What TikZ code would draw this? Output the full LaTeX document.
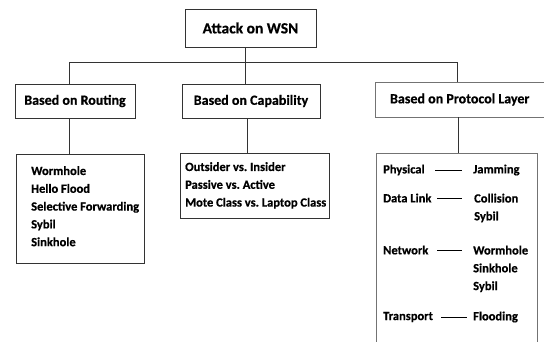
\documentclass[tikz,border=0pt]{standalone}
\usepackage{fontspec}
\setmainfont{Carlito}[BoldFeatures={FakeBold=0.6}]
\frenchspacing
\begin{document}
\begin{tikzpicture}[x=1pt,y=-1pt,
  box/.style={draw=black!80,line width=0.9pt,rectangle,inner sep=0pt,font=\bfseries\fontsize{14}{16}\selectfont},
  grbox/.style={box,draw=black!55},
  leaf/.style={draw=black!80,line width=0.9pt,rectangle,inner sep=0pt},
  item/.style={inner sep=0pt,anchor=north west,align=left,font=\bfseries\fontsize{12.5}{17.8}\selectfont},
  lbl/.style={inner sep=0pt,anchor=west,font=\bfseries\fontsize{12.5}{17.8}\selectfont},
  wire/.style={draw=black!80,line width=0.9pt},
  dashline/.style={draw=black,line width=0.7pt}]
\useasboundingbox (0,0) rectangle (544,341);
\fill[white] (0,0) rectangle (544,341);

% root and first level
\node[box,minimum width=131pt,minimum height=38pt,font=\bfseries\fontsize{15.5}{18}\selectfont] (root) at (250.5,28) {Attack on WSN};
\node[box,minimum width=120pt,minimum height=34pt] (routing) at (75,101) {Based on Routing};
\node[box,minimum width=138pt,minimum height=34pt] (capab) at (251,101) {Based on Capability};
\node[grbox,minimum width=168.5pt,minimum height=35pt] (proto) at (459.75,99.5) {Based on Protocol Layer};

% bus
\coordinate (busL) at (69,62);
\coordinate (busR) at (457,62);
\coordinate (busM) at (245,62);
\draw[wire] (busL) -- (busR);
\draw[wire] ([xshift=-5.5pt]root.south) -- (busM);
\draw[wire] (busL) -- (busL |- routing.north);
\draw[wire] (busM) -- (busM |- capab.north);
\draw[wire] (busR) -- (busR |- proto.north);

% leaf boxes
\node[leaf,minimum width=128pt,minimum height=109pt] (l1) at (80,208.5) {};
\node[leaf,minimum width=149pt,minimum height=65pt] (l2) at (254.5,185.5) {};
\node[leaf,draw=black!55,minimum width=161pt,minimum height=192pt] (l3) at (456.5,249) {};

\coordinate (d1) at (69,117);
\coordinate (d2) at (247,117);
\coordinate (d3) at (458,117);
\draw[wire] (d1 |- routing.south) -- (d1 |- l1.north);
\draw[wire] (d2 |- capab.south) -- (d2 |- l2.north);
\draw[wire] (d3 |- proto.south) -- (d3 |- l3.north);

% leaf texts
\node[item] (t1) at (31,166) {Wormhole\\Hello Flood\\Selective Forwarding\\Sybil\\Sinkhole};
\node[item] (t2) at (185,162) {Outsider vs. Insider\\Passive vs. Active\\Mote Class vs. Laptop Class};

% protocol layers
\node[lbl] (phys) at (383,170) {Physical};
\node[lbl] (dlink) at (383,198) {Data Link};
\node[lbl] (net) at (383,250) {Network};
\node[lbl] (trans) at (383,317) {Transport};
\node[lbl] (jam) at (473,170) {Jamming};
\node[item] (coll) at (474,193.5) {Collision\\Sybil};
\node[item] (worm) at (473,245.5) {Wormhole\\Sinkhole\\Sybil};
\node[lbl] (flood) at (473,317) {Flooding};

\draw[dashline] ([xshift=-38pt]jam.west) -- ([xshift=-11pt]jam.west);
\draw[dashline] (dlink.east -| 437,0) -- (dlink.east -| 462,0);
\draw[dashline] (net.east -| 437,0) -- (net.east -| 462,0);
\draw[dashline] ([xshift=-32pt]flood.west) -- ([xshift=-6pt]flood.west);
\end{tikzpicture}
\end{document}
